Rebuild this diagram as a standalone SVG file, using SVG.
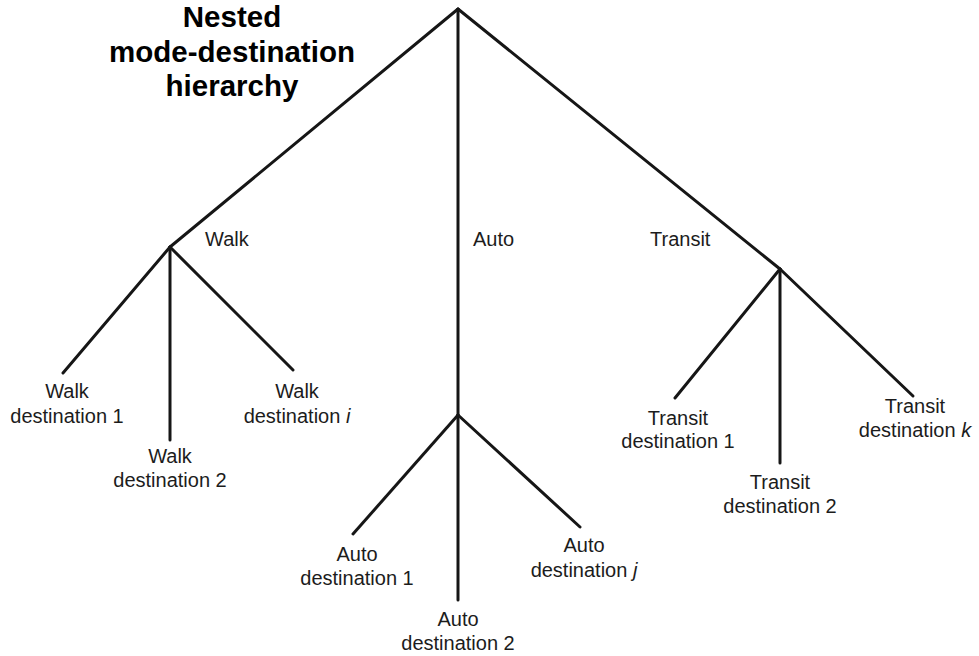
<svg xmlns="http://www.w3.org/2000/svg" width="979" height="656" viewBox="0 0 979 656">
<style>
.ln{stroke:#161616;stroke-width:3;fill:none;stroke-linecap:round}
.lbl{font-family:"Liberation Sans",Arial,sans-serif;font-size:20px;fill:#1c1c1c}
.mid{text-anchor:middle}
.ttl{font-family:"Liberation Sans",Arial,sans-serif;font-size:29.5px;font-weight:bold;fill:#000;text-anchor:middle}
.it{font-style:italic}
</style>
<rect width="979" height="656" fill="#fff"/>
<g id="connectors">
<line class="ln" x1="458" y1="9" x2="170" y2="247"/>
<line class="ln" x1="458" y1="9" x2="458" y2="415"/>
<line class="ln" x1="458" y1="9" x2="780" y2="269"/>
<line class="ln" x1="170" y1="247" x2="63" y2="373"/>
<line class="ln" x1="170" y1="247" x2="170" y2="440"/>
<line class="ln" x1="170" y1="247" x2="293" y2="370"/>
<line class="ln" x1="458" y1="415" x2="353" y2="534"/>
<line class="ln" x1="458" y1="415" x2="458" y2="600"/>
<line class="ln" x1="458" y1="415" x2="580" y2="527"/>
<line class="ln" x1="780" y1="269" x2="675" y2="398"/>
<line class="ln" x1="780" y1="269" x2="780" y2="463"/>
<line class="ln" x1="780" y1="269" x2="913" y2="396"/>
</g>
<g id="title">
<text class="ttl" x="232" y="27">Nested</text>
<text class="ttl" x="232" y="62">mode-destination</text>
<text class="ttl" x="232" y="96">hierarchy</text>
</g>
<g id="walk"><text class="lbl" x="205" y="246">Walk</text></g>
<g id="auto"><text class="lbl" x="473" y="246">Auto</text></g>
<g id="transit"><text class="lbl" x="650" y="246">Transit</text></g>
<g id="walk-dest-1"><text class="lbl mid" x="67" y="398">Walk</text><text class="lbl mid" x="67" y="423">destination 1</text></g>
<g id="walk-dest-2"><text class="lbl mid" x="170" y="463">Walk</text><text class="lbl mid" x="170" y="487">destination 2</text></g>
<g id="walk-dest-i"><text class="lbl mid" x="297" y="398">Walk</text><text class="lbl mid" x="297" y="423">destination <tspan class="it">i</tspan></text></g>
<g id="auto-dest-1"><text class="lbl mid" x="357" y="561">Auto</text><text class="lbl mid" x="357" y="585">destination 1</text></g>
<g id="auto-dest-2"><text class="lbl mid" x="458" y="626">Auto</text><text class="lbl mid" x="458" y="650">destination 2</text></g>
<g id="auto-dest-j"><text class="lbl mid" x="584" y="552">Auto</text><text class="lbl mid" x="584" y="577">destination <tspan class="it">j</tspan></text></g>
<g id="transit-dest-1"><text class="lbl mid" x="678" y="425">Transit</text><text class="lbl mid" x="678" y="448">destination 1</text></g>
<g id="transit-dest-2"><text class="lbl mid" x="780" y="489">Transit</text><text class="lbl mid" x="780" y="513">destination 2</text></g>
<g id="transit-dest-k"><text class="lbl mid" x="915" y="413">Transit</text><text class="lbl mid" x="915" y="437">destination <tspan class="it">k</tspan></text></g>
</svg>
